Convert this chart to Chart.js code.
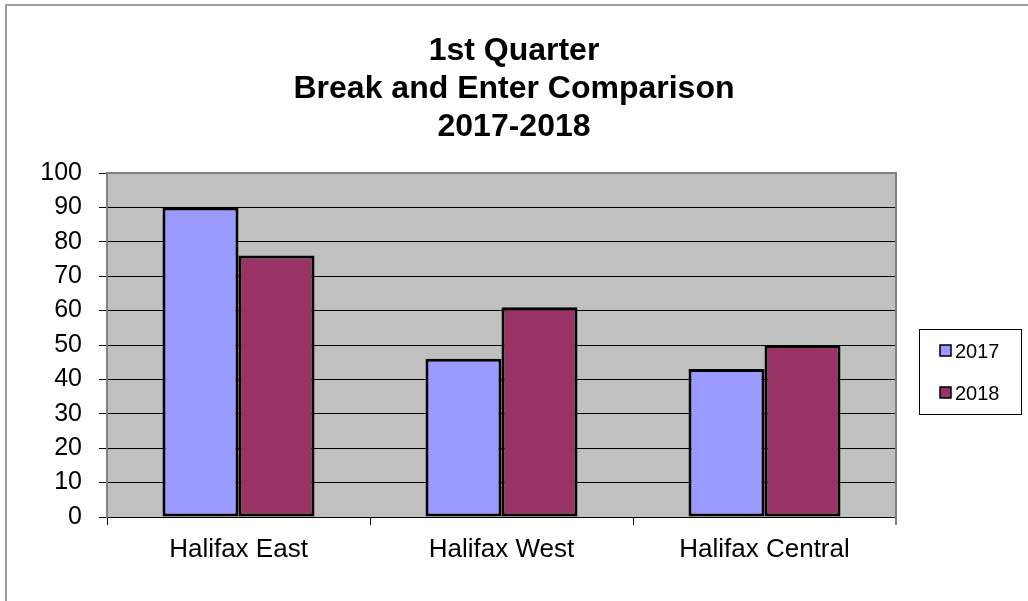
<!DOCTYPE html>
<html>
<head>
<meta charset="utf-8">
<script src="https://cdn.jsdelivr.net/npm/chart.js@4.4.1/dist/chart.umd.min.js"></script>
<style>
  html, body { margin: 0; padding: 0; background: #ffffff; }
  canvas { display: block; }
</style>
</head>
<body>
<canvas id="c" width="1028" height="601"></canvas>
<script>
const categories = ['Halifax East', 'Halifax West', 'Halifax Central'];
const seriesNames = ['2017', '2018'];
const values2017 = [90, 46, 43];
const values2018 = [76, 61, 50];
const titleLines = ['1st Quarter', 'Break and Enter Comparison', '2017-2018'];
const yMin = 0, yMax = 100, yStep = 10;

const FONT = "'Liberation Sans', Arial, sans-serif";

const framePlugin = {
  id: 'frame',
  beforeDraw(chart) {
    const ctx = chart.ctx, a = chart.chartArea;
    ctx.save();
    ctx.fillStyle = '#ffffff';
    ctx.fillRect(0, 0, chart.width, chart.height);
    ctx.fillStyle = '#C0C0C0';
    ctx.fillRect(a.left, a.top, a.right - a.left, a.bottom - a.top);
    ctx.strokeStyle = '#7f7f7f';
    ctx.lineWidth = 1.5;
    ctx.beginPath();
    ctx.moveTo(6, chart.height + 2);
    ctx.lineTo(6, 5);
    ctx.lineTo(chart.width + 2, 5);
    ctx.stroke();
    ctx.restore();
  },
  beforeDatasetsDraw(chart) {
    const ctx = chart.ctx, a = chart.chartArea;
    ctx.save();
    ctx.strokeStyle = '#808080';
    ctx.lineWidth = 2;
    ctx.beginPath();
    ctx.moveTo(a.left, a.bottom);
    ctx.lineTo(a.left, a.top);
    ctx.lineTo(a.right, a.top);
    ctx.lineTo(a.right, a.bottom + 8);
    ctx.stroke();
    ctx.restore();
  },
  afterDraw(chart) {
    const ctx = chart.ctx;
    ctx.save();
    ctx.strokeStyle = '#000';
    ctx.lineWidth = 1;
    ctx.strokeRect(919.5, 329.5, 102, 85);
    ctx.font = '20px ' + FONT;
    ctx.textBaseline = 'middle';
    ctx.textAlign = 'left';
    const ys = [351, 393];
    chart.data.datasets.forEach((ds, i) => {
      const y = ys[i];
      ctx.fillStyle = ds.backgroundColor;
      ctx.fillRect(940, y - 6, 11, 11);
      ctx.strokeStyle = '#000';
      ctx.lineWidth = 1.5;
      ctx.strokeRect(940, y - 6, 11, 11);
      ctx.fillStyle = '#000';
      ctx.fillText(ds.label, 955, y + 1);
    });
    ctx.restore();
  }
};

new Chart(document.getElementById('c'), {
  type: 'bar',
  data: {
    labels: categories,
    datasets: [
      { label: seriesNames[0], data: values2017, backgroundColor: '#9999FF', borderColor: '#000', borderWidth: 3, borderSkipped: false },
      { label: seriesNames[1], data: values2018, backgroundColor: '#993366', borderColor: '#000', borderWidth: 3, borderSkipped: false }
    ]
  },
  options: {
    responsive: false,
    animation: false,
    devicePixelRatio: 1,
    layout: { padding: { left: 0, right: 0, top: 0, bottom: 0 } },
    datasets: { bar: { barPercentage: 1, categoryPercentage: 0.578 } },
    plugins: {
      legend: { display: false },
      tooltip: { enabled: false },
      title: {
        display: true,
        text: titleLines,
        color: '#000',
        font: { family: FONT, size: 32, weight: 'bold', lineHeight: '38px' },
        padding: { top: 32, bottom: 27 }
      }
    },
    scales: {
      x: {
        offset: true,
        grid: { display: true, drawOnChartArea: false, drawTicks: true, tickLength: 8, color: '#000', lineWidth: 1, offset: true },
        border: { display: true, color: '#000', width: 1 },
        ticks: { color: '#000', font: { family: FONT, size: 26 }, padding: 9, maxRotation: 0 },
        afterFit(s) { s.height = 84; }
      },
      y: {
        min: yMin, max: yMax,
        grid: { color: '#000', lineWidth: 1, tickLength: 8, drawTicks: true },
        border: { display: true, color: '#808080', width: 2 },
        ticks: { stepSize: yStep, color: '#000', font: { family: FONT, size: 25 }, padding: 17 },
        afterFit(s) { s.width = 107; }
      },
      spacer: {
        type: 'linear',
        position: 'right',
        display: true,
        grid: { display: false, drawTicks: false },
        border: { display: false },
        ticks: { display: false },
        afterFit(s) { s.width = 132; }
      }
    }
  },
  plugins: [framePlugin]
});
</script>
</body>
</html>
